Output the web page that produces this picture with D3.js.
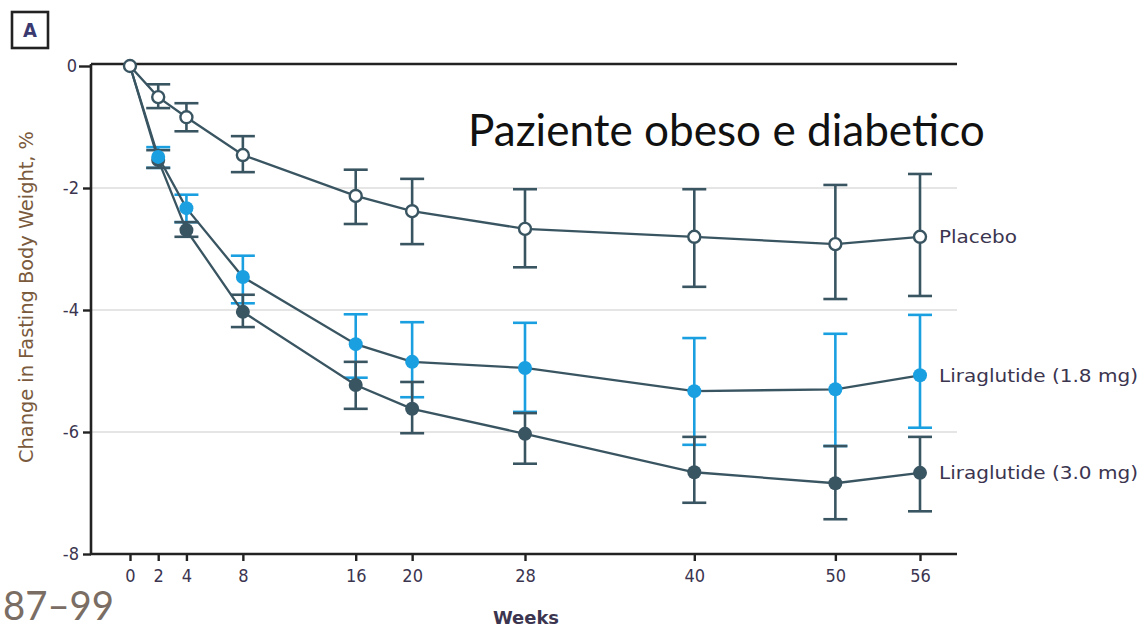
<!DOCTYPE html>
<html>
<head>
<meta charset="utf-8">
<script src="https://cdn.jsdelivr.net/npm/d3@7"></script>
<style>
  html, body { margin: 0; padding: 0; background: #fff; }
  svg { display: block; }
</style>
</head>
<body>
<svg id="chart" width="1144" height="630"></svg>
<script>
// ---- data ----
const weeks = [0, 2, 4, 8, 16, 20, 28, 40, 50, 56];
const yTicks = [0, -2, -4, -6, -8];
const seriesNames = ["Placebo", "Liraglutide (1.8 mg)", "Liraglutide (3.0 mg)"];

const placeboMean  = [0, -0.51, -0.84, -1.46, -2.13, -2.38, -2.67, -2.80, -2.92, -2.80];
const placeboUpper = [0, -0.30, -0.61, -1.15, -1.70, -1.85, -2.02, -2.02, -1.95, -1.77];
const placeboLower = [0, -0.69, -1.07, -1.74, -2.59, -2.92, -3.30, -3.62, -3.82, -3.77];

const lira18Mean  = [0, -1.49, -2.33, -3.46, -4.56, -4.85, -4.95, -5.33, -5.30, -5.07];
const lira18Upper = [0, -1.33, -2.11, -3.11, -4.07, -4.20, -4.21, -4.46, -4.39, -4.08];
const lira18Lower = [0, -1.67, -2.56, -3.89, -5.11, -5.43, -5.67, -6.21, -6.23, -5.93];

const lira30Mean  = [0, -1.54, -2.69, -4.03, -5.23, -5.62, -6.03, -6.66, -6.84, -6.67];
const lira30Upper = [0, -1.38, -2.56, -3.75, -4.85, -5.18, -5.69, -6.08, -6.23, -6.08];
const lira30Lower = [0, -1.67, -2.80, -4.28, -5.62, -6.02, -6.52, -7.16, -7.43, -7.30];

const titleText = "Paziente obeso e diabetico";
const refText = "87\u201399";
const xLabel = "Weeks";
const yLabel = "Change in Fasting Body Weight, %";
const panelLetter = "A";

// ---- layout ----
const svg = d3.select("#chart");
const axisLeftX = 91, axisRightX = 957, axisTopY = 64, axisBottomY = 554;
const x = d3.scaleLinear().domain([0, 56]).range([130, 920]);
const y = d3.scaleLinear().domain([0, -8]).range([66, 554]);

const dark = "#3a5562";
const cyan = "#1a9fe0";
const narrow = "'DejaVu Sans Condensed', 'Liberation Sans Narrow', sans-serif";
const tickColor = "#3b3550";

// gridlines
svg.append("g").selectAll("line").data(yTicks.filter(d => d !== 0 && d !== -8)).join("line")
  .attr("x1", axisLeftX).attr("x2", axisRightX)
  .attr("y1", d => y(d)).attr("y2", d => y(d))
  .attr("stroke", "#dcdcdc").attr("stroke-width", 1.6);

// y axis
const yAxis = d3.axisLeft(y).tickValues(yTicks).tickSize(8).tickPadding(4)
  .tickFormat(d => d === 0 ? "0" : "-" + Math.abs(d));
const gy = svg.append("g").attr("transform", `translate(${axisLeftX},0)`).call(yAxis);
gy.attr("font-size", 18).attr("font-family", narrow);
gy.select(".domain").remove();
gy.selectAll(".tick line").attr("stroke", "#222").attr("stroke-width", 2.4);
gy.selectAll(".tick text").style("font-size", "18px").style("font-family", narrow)
  .attr("fill", tickColor);
gy.selectAll(".tick").filter(d => d === 0).select("line").attr("x2", -12);
gy.selectAll(".tick").filter(d => d === 0).select("text").attr("x", -14);

// x axis
const xAxis = d3.axisBottom(x).tickValues(weeks).tickSize(7).tickPadding(8);
const gx = svg.append("g").attr("transform", `translate(0,${axisBottomY})`).call(xAxis);
gx.attr("font-size", 18).attr("font-family", narrow);
gx.select(".domain").remove();
gx.selectAll(".tick line").attr("stroke", "#222").attr("stroke-width", 2.4);
gx.selectAll(".tick text").style("font-size", "18px").style("font-family", narrow)
  .attr("fill", tickColor);

// axis lines
svg.append("line").attr("x1", axisLeftX).attr("x2", axisLeftX)
  .attr("y1", axisTopY).attr("y2", axisBottomY + 1)
  .attr("stroke", "#222").attr("stroke-width", 2.6);
svg.append("line").attr("x1", axisLeftX - 1).attr("x2", axisRightX)
  .attr("y1", axisBottomY).attr("y2", axisBottomY)
  .attr("stroke", "#222").attr("stroke-width", 2.6);
svg.append("line").attr("x1", axisLeftX).attr("x2", axisRightX)
  .attr("y1", axisTopY).attr("y2", axisTopY)
  .attr("stroke", "#222").attr("stroke-width", 2.6);

// series
function build(mean, up, lo) {
  return weeks.map((w, i) => ({ w, m: mean[i], u: up[i], l: lo[i] }));
}
const placebo = build(placeboMean, placeboUpper, placeboLower);
const lira18 = build(lira18Mean, lira18Upper, lira18Lower);
const lira30 = build(lira30Mean, lira30Upper, lira30Lower);

function errorBars(data, color) {
  const g = svg.append("g").attr("stroke", color).attr("stroke-width", 2.6).attr("fill", "none");
  const d2 = data.filter(d => d.w !== 0);
  g.selectAll("line.v").data(d2).join("line").attr("class", "v")
    .attr("x1", d => x(d.w)).attr("x2", d => x(d.w))
    .attr("y1", d => y(d.u)).attr("y2", d => y(d.l));
  g.selectAll("line.cu").data(d2).join("line").attr("class", "cu")
    .attr("x1", d => x(d.w) - 12).attr("x2", d => x(d.w) + 12)
    .attr("y1", d => y(d.u)).attr("y2", d => y(d.u));
  g.selectAll("line.cl").data(d2).join("line").attr("class", "cl")
    .attr("x1", d => x(d.w) - 12).attr("x2", d => x(d.w) + 12)
    .attr("y1", d => y(d.l)).attr("y2", d => y(d.l));
}
errorBars(lira18, cyan);
errorBars(lira30, dark);
errorBars(placebo, dark);

const line = d3.line().x(d => x(d.w)).y(d => y(d.m));
[lira30, lira18, placebo].forEach(s => {
  svg.append("path").datum(s).attr("d", line)
    .attr("fill", "none").attr("stroke", dark).attr("stroke-width", 2.3);
});

svg.append("g").selectAll("circle").data(lira30.filter(d => d.w !== 0)).join("circle")
  .attr("cx", d => x(d.w)).attr("cy", d => y(d.m)).attr("r", 7).attr("fill", dark);
svg.append("g").selectAll("circle").data(lira18.filter(d => d.w !== 0)).join("circle")
  .attr("cx", d => x(d.w)).attr("cy", d => y(d.m)).attr("r", 7).attr("fill", cyan);
svg.append("g").selectAll("circle").data(placebo).join("circle")
  .attr("cx", d => x(d.w)).attr("cy", d => y(d.m)).attr("r", 6)
  .attr("fill", "#fff").attr("stroke", dark).attr("stroke-width", 2.4);

// series labels at the right
const labelData = [
  { name: seriesNames[0], v: placeboMean[placeboMean.length - 1], w: 78 },
  { name: seriesNames[1], v: lira18Mean[lira18Mean.length - 1], w: 199 },
  { name: seriesNames[2], v: lira30Mean[lira30Mean.length - 1], w: 199 }
];
svg.append("g").selectAll("text").data(labelData).join("text")
  .attr("x", 939).attr("y", d => y(d.v)).attr("dy", "0.35em")
  .attr("font-family", narrow).attr("font-size", 18)
  .attr("fill", tickColor)
  .attr("textLength", d => d.w).attr("lengthAdjust", "spacingAndGlyphs")
  .text(d => d.name);

// axis titles
svg.append("text").attr("x", 526).attr("y", 618).attr("dy", "0.35em")
  .attr("text-anchor", "middle").attr("font-family", narrow).attr("font-size", 18)
  .attr("font-weight", "bold").attr("fill", tickColor)
  .attr("textLength", 66).attr("lengthAdjust", "spacingAndGlyphs")
  .text(xLabel);
svg.append("text").attr("transform", "translate(26,297) rotate(-90)")
  .attr("text-anchor", "middle").attr("dy", "0.35em")
  .attr("font-family", narrow).attr("font-size", 19).attr("fill", "#7a5a3c")
  .attr("textLength", 332).attr("lengthAdjust", "spacingAndGlyphs")
  .text(yLabel);

// panel letter box
svg.append("rect").attr("x", 12).attr("y", 12).attr("width", 36).attr("height", 36)
  .attr("fill", "#fff").attr("stroke", "#222").attr("stroke-width", 2.6);
svg.append("text").attr("x", 30).attr("y", 30).attr("dy", "0.36em")
  .attr("text-anchor", "middle").attr("font-family", narrow).attr("font-weight", "bold")
  .attr("font-size", 20).attr("fill", "#3a3a70").text(panelLetter);

// title
const title = svg.append("text").attr("x", 468).attr("y", 146)
  .attr("font-family", "Lato, 'Open Sans', sans-serif").attr("font-size", 38)
  .attr("fill", "#111").text(titleText);
const tw = title.node().getComputedTextLength();
title.attr("font-size", 38 * 517 / tw);

// reference text bottom-left
svg.append("text").attr("x", 3).attr("y", 620)
  .attr("font-family", "Lato, 'Open Sans', sans-serif").attr("font-size", 40)
  .attr("fill", "#7a6d64")
  .attr("textLength", 111).attr("lengthAdjust", "spacingAndGlyphs")
  .text(refText);
</script>
</body>
</html>
